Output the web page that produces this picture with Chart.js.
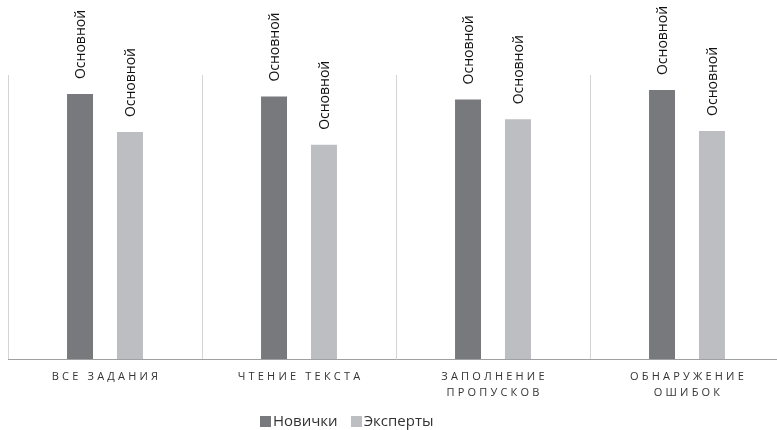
<!DOCTYPE html>
<html>
<head>
<meta charset="utf-8">
<script src="https://cdn.jsdelivr.net/npm/chart.js@4/dist/chart.umd.min.js"></script>
<style>
	html, body {
		margin: 0;
		padding: 0;
		width: 777px;
		height: 430px;
		overflow: hidden;
		background: #fff;
	}
	#wrap {
		position: absolute;
		left: 0;
		top: 0;
		width: 800px;
		height: 430px;
	}
	#legend {
		position: absolute;
		top: 410px;
		left: 260px;
		font-family: "Open Sans", sans-serif;
		font-size: 15px;
		color: #333;
		white-space: nowrap;
	}
	#legend span.box {
		display: inline-block;
		width: 11px;
		height: 11px;
		margin-right: 2px;
		vertical-align: -1px;
	}
	#legend span.item {
		margin-right: 13px;
	}
</style>
</head>
<body>
<div id="wrap"><canvas id="chart"></canvas></div>
<div id="legend"></div>
<script>
const categories = [
	["ВСЕ ЗАДАНИЯ"],
	["ЧТЕНИЕ ТЕКСТА"],
	["ЗАПОЛНЕНИЕ", "ПРОПУСКОВ"],
	["ОБНАРУЖЕНИЕ", "ОШИБОК"],
];
const seriesNames = ["Новички", "Эксперты"];
const novices = [93.3, 92.4, 91.4, 94.7];
const experts = [79.9, 75.4, 84.4, 80.3];
const barLabel = "Основной";
const colors = ["#78797d", "#bdbec2"];

// подписи над столбцами
const barLabels = {
	id: "barLabels",
	afterDatasetsDraw(chart) {
		const ctx = chart.ctx;
		ctx.save();
		ctx.font = "14px 'Open Sans', sans-serif";
		ctx.fillStyle = "#111";
		ctx.textAlign = "left";
		ctx.textBaseline = "middle";
		chart.data.datasets.forEach((ds, i) => {
			chart.getDatasetMeta(i).data.forEach((bar) => {
				ctx.save();
				ctx.translate(bar.x + 1, bar.y - 15);
				ctx.rotate(-Math.PI / 2);
				ctx.fillText(barLabel, 0, 0);
				ctx.restore();
			});
		});
		ctx.restore();
	},
};

// категории с разрядкой
const spacedTicks = {
	id: "spacedTicks",
	afterDraw(chart) {
		const ctx = chart.ctx;
		const xScale = chart.scales.x;
		const base = chart.chartArea.bottom;
		ctx.save();
		ctx.font = "11px 'Open Sans', sans-serif";
		ctx.fillStyle = "#333";
		ctx.textAlign = "center";
		ctx.textBaseline = "middle";
		ctx.letterSpacing = "3.2px";
		chart.data.labels.forEach((lines, i) => {
			const x = xScale.getPixelForTick(i) + 1.5;
			lines.forEach((line, j) => {
				ctx.fillText(line, x, base + 18 + j * 16);
			});
		});
		ctx.restore();
	},
};

const context = document.getElementById("chart").getContext("2d");

const chart = new Chart(context, {
	type: "bar",
	data: {
		labels: categories,
		datasets: [
			{
				label: seriesNames[0],
				data: novices,
				backgroundColor: colors[0],
			},
			{
				label: seriesNames[1],
				data: experts,
				backgroundColor: colors[1],
			},
		],
	},
	options: {
		responsive: true,
		maintainAspectRatio: false,
		animation: false,
		categoryPercentage: 0.515,
		barPercentage: 0.52,
		layout: {
			padding: { left: 8, right: 16, top: 75, bottom: 71 },
		},
		plugins: {
			legend: { display: false },
			tooltip: { enabled: false },
		},
		scales: {
			x: {
				ticks: { display: false },
				grid: {
					color: "#d4d4d4",
					drawTicks: false,
					offset: true,
				},
				border: { color: "#a0a0a0", width: 1 },
			},
			y: {
				display: false,
				min: 0,
				max: 100,
			},
		},
	},
	plugins: [barLabels, spacedTicks],
});

const legend = document.getElementById("legend");
seriesNames.forEach((name, i) => {
	const item = document.createElement("span");
	item.className = "item";
	item.innerHTML = `<span class="box" style="background:${colors[i]}"></span>${name}`;
	legend.appendChild(item);
});
</script>
</body>
</html>
